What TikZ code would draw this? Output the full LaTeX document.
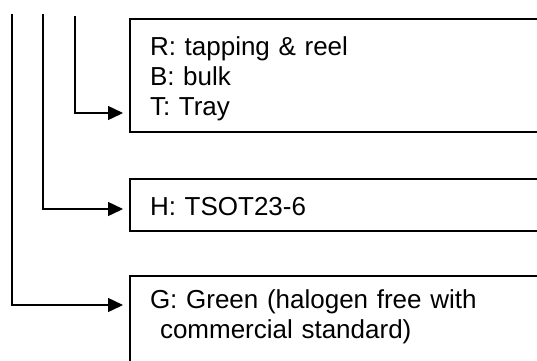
\documentclass[tikz,border=0pt]{standalone}
\usepackage{fontspec}
\setmainfont{Liberation Sans}
\usetikzlibrary{arrows.meta}

\begin{document}
\begin{tikzpicture}[x=1pt, y=-1pt, line width=1.5pt,
		>={Triangle[length=15pt, width=14pt]},
		code/.style={draw, anchor=north west, outer sep=0pt, inner xsep=20pt, inner ysep=0pt,
			text width=410pt, align=left, font=\fontsize{26}{30}\selectfont},
		feed/.style={->, shorten >=7pt}]
				% Page frame, boxes run off the right edge
				\useasboundingbox (0,0) rectangle (537,360);
				\clip (0,0) rectangle (537,360);

				% Code boxes
				\node[code, text height=36pt, text depth=77pt] (pack) at (130,19)
					{R: tapping \& reel\\B: bulk\\T: Tray};
				\node[code, text height=36pt, text depth=16pt] (pkg) at (130,179)
					{H: TSOT23-6};
				\node[code, text height=32pt, text depth=60pt] (grn) at (130,276)
					{G: Green (halogen free with\\\hspace*{10pt}commercial standard)};

				% Lead lines from the part number
				\coordinate (lead1) at (12,14);
				\coordinate (lead2) at (43,14);
				\coordinate (lead3) at (75,16);

				% Draw arrows
				\draw[feed] (lead3) |- ([yshift=19pt]pack.south west);
				\draw[feed] (lead2) |- ([yshift=-4pt]pkg.west);
				\draw[feed] (lead1) |- ([yshift=-29pt]grn.north west);
			\end{tikzpicture}
\end{document}
